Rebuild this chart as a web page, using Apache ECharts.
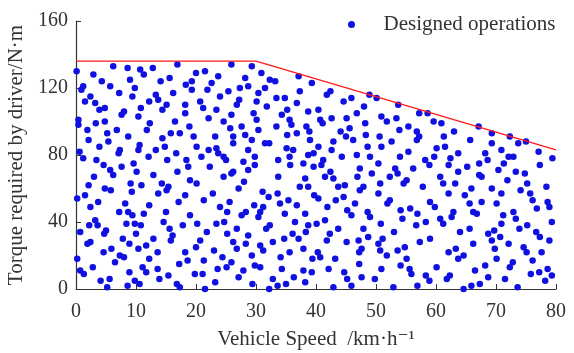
<!DOCTYPE html>
<html>
<head>
<meta charset="utf-8">
<title>Designed operations</title>
<script src="https://cdn.jsdelivr.net/npm/echarts@6/dist/echarts.min.js"></script>
<style>
  html, body { margin: 0; padding: 0; background: #fff; }
  #chart { width: 574px; height: 353px; }
</style>
</head>
<body>
<div id="chart"></div>
<script>
// [speed km/h, torque N·m], grouped by speed band
const opsSpeed0to20 = [
  [0.1,130],[6.2,133],[8.6,132],[10.7,131],[11.3,128],[12.8,132],[16.9,134],
  [2.9,128],[1.2,121],[0.9,119],[4.3,124],[5.7,121],[9.0,125],[7.2,117],[9.8,120],[14.1,124],[15.6,126],[18.3,122],[19.3,124],
  [1.5,112],[2.4,115],[3.2,111],[3.9,107],[4.8,108],[7.6,104],[8.0,106],[9.4,115],[10.8,108],[12.2,112],[13.3,116],[13.7,113],[15.1,110],[14.4,107],[16.2,117],[18.2,110],[18.2,105],
  [0.4,101],[0.4,98],[1.9,95],[2.1,89],[3.3,99],[4.8,100],[5.2,93],[5.4,88],[6.8,95],[10.4,103],[8.7,91],[12.3,99],[11.8,95],[14.4,90],[15.8,93],[16.5,100],[17.3,93],[18.9,97],[19.6,91],
  [0.6,82],[1.2,78],[3.9,85],[7.3,83],[7.1,81],[10.6,86],[10.4,83],[12.1,79],[13.3,83],[14.8,85],[15.2,77],[16.7,81],[18.4,77],[18.7,73],
  [3.4,77],[4.6,74],[5.7,71],[7.6,73],[9.6,75],[10.1,70],[16.9,70],
  [3.0,67],[6.2,68],[12.9,68],[9.1,63],[10.9,62],[14.3,63],[15.4,61],[19.0,65],[20.1,63],[2.1,62],[1.5,56],[0.2,54],[4.8,60],[5.8,59],[9.3,58],[13.7,57],[15.1,59],[18.2,56],
  [3.7,52],[2.4,49],[8.2,51],[12.2,50],[17.1,52],[7.2,46],[8.7,46],[9.4,44],[11.3,45],[15.0,46],[19.0,44],
  [3.2,41],[3.6,38],[2.2,38],[0.7,34],[5.0,35],[4.7,33],[8.4,39],[9.8,39],[10.8,38],[10.0,33],[14.6,40],[15.6,36],[17.8,38],[20.2,39],
  [7.8,30],[8.9,27],[10.4,24],[11.7,26],[12.9,30],[16.1,32],[15.8,29],[1.9,27],[2.4,28],[4.6,22],[5.9,24],[7.3,20],[8.0,19],[6.5,16],[12.2,18],[13.6,22],[18.2,22],[18.6,17],[17.2,15],
  [0.2,18],[2.8,13],[0.7,11],[1.3,9],[8.9,10],[11.1,13],[11.7,10],[13.6,12],[4.1,5],[5.6,6],[5.2,1],[8.6,2],[9.8,5],[10.6,3],[13.9,6],[15.4,8],[16.8,3],[17.3,1]
];
const opsSpeed20to40 = [
  [25.9,134],[29.3,133],[30.9,129],[20.0,129],[21.5,130],[22.6,123],[23.7,127],[32.3,125],[33.2,124],[28.2,126],[28.7,121],[27.3,120],[37.1,127],[39.3,123],
  [19.3,119],[21.9,119],[24.0,115],[25.4,118],[30.4,117],[31.5,120],[30.1,112],[33.4,114],[34.8,114],[37.3,118],[20.7,112],[21.2,108],[23.4,107],[27.2,113],[26.8,110],[29.6,105],[31.8,109],[36.8,111],[35.2,107],[34.3,104],[38.7,106],[40.4,107],
  [22.1,102],[24.6,100],[25.9,104],[27.6,97],[30.1,101],[25.7,96],[33.4,97],[35.6,101],[35.9,98],[38.4,97],[38.9,94],[23.2,91],[26.2,91],[28.2,92],[29.3,89],[30.4,95],[32.2,87],[35.2,92],[36.8,93],[39.0,89],[40.4,85],
  [20.1,85],[22.1,83],[23.4,84],[23.7,81],[26.2,87],[28.7,83],[31.5,87],[35.1,84],[36.2,83],[35.6,79],[38.7,80],[39.6,81],[20.9,79],[24.6,79],[25.0,77],[22.3,73],[27.9,76],[29.8,79],[29.8,74],[33.7,77],[35.7,74],[37.9,75],[39.6,73],[26.2,70],[28.7,71],
  [24.6,67],[25.9,69],[33.7,67],[38.2,66],[22.8,57],[27.1,60],[28.0,64],[31.1,58],[32.1,55],[33.6,57],[37.3,61],[38.7,61],[39.7,56],[40.4,54],
  [21.3,53],[24.0,49],[25.6,52],[25.2,46],[29.7,50],[31.2,49],[34.0,51],[35.4,53],[36.8,50],[38.2,45],
  [23.4,39],[24.7,40],[27.6,44],[28.3,46],[30.7,46],[30.4,43],[32.3,38],[31.7,36],[34.8,45],[36.5,40],[38.7,38],[40.1,39],
  [21.8,34],[25.2,33],[26.8,36],[28.7,32],[28.3,27],[30.7,26],[31.2,23],[32.8,28],[34.7,30],[36.1,33],[37.1,30],[38.3,34],[20.7,29],[20.0,25],[26.2,28],
  [23.0,23],[26.8,24],[29.3,20],[34.1,19],[35.6,22],[37.9,24],[39.4,18],[40.3,22],[21.3,17],[24.4,19],[25.9,16],[25.1,13],[23.6,12],[27.9,11],[29.8,14],[30.7,13],[34.3,12],[37.9,11],[39.3,10],
  [19.8,9],[21.1,9],[27.1,7],[29.4,3],[32.8,6],[33.6,2],[36.3,7],[35.0,3],[38.2,4],[23.2,4],[21.5,0],[32.2,0]
];
const opsSpeed40to60 = [
  [41.8,116],[42.4,118],[44.6,112],[45.9,114],[48.9,116],[50.1,114],[53.7,110],[48.0,109],[46.8,105],[45.1,102],[40.7,101],[41.1,99],[42.6,102],[44.1,94],[45.6,96],[45.0,91],[46.2,89],[42.9,88],[42.6,83],
  [48.2,99],[48.3,92],[50.9,103],[51.8,100],[50.6,91],[50.9,85],[48.6,85],[53.4,102],[52.6,88],[53.9,95],[55.4,97],[56.8,94],[57.2,91],[56.8,89],[57.2,105],[58.6,105],[59.6,100],[60.1,84],
  [55.4,82],[54.0,79],[58.2,77],[58.9,74],[41.2,77],[44.3,79],[46.8,80],[49.0,79],[50.4,75],[47.3,72],[53.2,72],[56.2,72],[42.4,70],[40.9,74],
  [41.5,67],[42.9,66],[46.9,67],[49.3,69],[50.7,63],[52.3,67],[53.6,69],[54.6,63],[55.1,65],[57.8,61],[43.7,61],[44.8,62],[47.3,59],[47.9,61],[50.4,57],
  [41.9,49],[43.3,53],[44.6,55],[46.5,51],[45.2,47],[45.9,44],[48.6,46],[49.0,43],[50.8,39],[51.9,51],[52.3,53],[54.1,47],[54.4,42],[55.7,48],[56.9,45],[58.3,40],[59.0,52],
  [41.5,41],[42.3,33],[43.7,36],[41.8,29],[45.1,28],[47.1,29],[47.9,36],[48.7,31],[50.4,27],[50.7,23],[51.1,30],[53.0,34],[53.6,23],[54.8,25],[56.7,38],[57.3,28],[59.0,30],
  [40.7,19],[43.2,18],[47.2,22],[47.6,24],[47.2,15],[42.1,12],[44.7,10],[45.2,6],[45.9,2],[47.6,7],[49.8,6],[50.9,12],[51.8,20],[54.1,14],[55.6,12],[55.9,9],[55.1,18],[58.3,8],[58.9,5],[56.9,2],[52.9,1],[42.9,1]
];
const opsSpeed60to80 = [
  [60.9,99],[63.0,94],[61.3,91],[61.5,85],[59.7,79],[62.4,78],[63.7,81],[65.7,89],[67.1,97],[69.3,93],[69.3,87],[70.9,83],[72.3,91],[73.7,87],[75.0,88],[72.1,79],[72.9,79],[68.2,81],[68.6,77],[67.2,75],[65.2,73],[63.7,70],[62.1,74],[71.3,75],[70.4,71],[73.3,70],[74.8,69],[77.3,74],[77.1,82],[79.4,78],
  [60.7,67],[61.2,63],[67.2,68],[67.6,67],[71.9,65],[75.2,63],[74.1,59],[78.4,61],[63.2,63],[62.1,57],[64.8,56],[65.6,51],[65.9,60],[67.6,52],[69.3,60],[70.1,51],[70.9,57],[75.7,57],[76.1,53],[78.6,52],[78.9,49],[76.8,48],[59.8,49],
  [62.9,46],[62.6,43],[66.2,46],[66.8,45],[71.2,44],[70.9,39],[72.9,46],[73.3,42],[60.7,42],[61.2,39],[64.0,34],[65.6,36],[68.7,33],[69.7,35],[70.7,31],[69.3,29],[73.9,36],[75.2,38],[76.7,34],[77.3,31],[79.3,40],[78.9,29],
  [66.2,27],[72.1,27],[74.6,25],[75.1,22],[76.1,17],[77.6,22],[62.1,22],[63.3,24],[63.7,18],[64.6,20],[69.8,24],[70.1,18],[68.2,14],[72.8,16],[72.3,13],[60.1,13],
  [62.3,8],[61.8,6],[66.5,11],[68.7,7],[71.5,6],[75.8,9],[77.2,10],[78.6,12],[79.3,8],[78.2,5],[64.6,0],[65.9,2],[67.3,3],[73.6,1]
];

// driver torque limit (red boundary)
const limitSpeed = [0, 30, 80];
const limitTorque = [136, 136, 83];

const legendName = 'Designed operations';
const xName = 'Vehicle Speed  /km·h⁻¹';
const yName = 'Torque required by driver/N·m';

const serif = '"Liberation Serif", "DejaVu Serif", serif';
const textColor = '#333';

const designedOps = [].concat(opsSpeed0to20, opsSpeed20to40, opsSpeed40to60, opsSpeed60to80);
const limitLine = limitSpeed.map((v, i) => [v, limitTorque[i]]);

const chart = echarts.init(document.getElementById('chart'));
chart.setOption({
  animation: false,
  backgroundColor: '#fff',
  grid: { left: 76, right: 18, top: 21, bottom: 64, outerBoundsMode: 'none' },
  legend: {
    data: [legendName],
    left: 348,
    top: 14,
    padding: 0,
    itemWidth: 54,
    itemHeight: 7,
    icon: 'circle',
    textStyle: { fontFamily: serif, fontSize: 21, color: textColor }
  },
  xAxis: {
    type: 'value',
    min: 0,
    max: 80,
    interval: 10,
    name: xName,
    nameLocation: 'middle',
    nameGap: 40,
    nameTextStyle: { fontFamily: serif, fontSize: 21, color: textColor },
    axisLine: { lineStyle: { color: '#333', width: 1.2 } },
    axisTick: { inside: true, length: 5, lineStyle: { color: '#333' } },
    axisLabel: { margin: 13, fontFamily: serif, fontSize: 20, color: textColor },
    splitLine: { show: false }
  },
  yAxis: {
    type: 'value',
    min: 0,
    max: 160,
    interval: 40,
    name: yName,
    nameLocation: 'middle',
    nameGap: 46,
    nameTextStyle: { fontFamily: serif, fontSize: 21, color: textColor },
    axisLine: { show: true, lineStyle: { color: '#333', width: 1.2 } },
    axisTick: { show: true, inside: true, length: 5, lineStyle: { color: '#333' } },
    axisLabel: { margin: 8, fontFamily: serif, fontSize: 20, color: textColor },
    splitLine: { show: false }
  },
  series: [
    {
      name: legendName,
      type: 'scatter',
      data: designedOps,
      symbol: 'circle',
      symbolSize: 6.5,
      itemStyle: { color: '#1010e0', opacity: 1 }
    },
    {
      name: 'limit',
      type: 'line',
      data: limitLine,
      showSymbol: false,
      symbol: 'none',
      z: 3,
      lineStyle: { color: '#ff1a1a', width: 1.3 }
    }
  ]
});
</script>
</body>
</html>
